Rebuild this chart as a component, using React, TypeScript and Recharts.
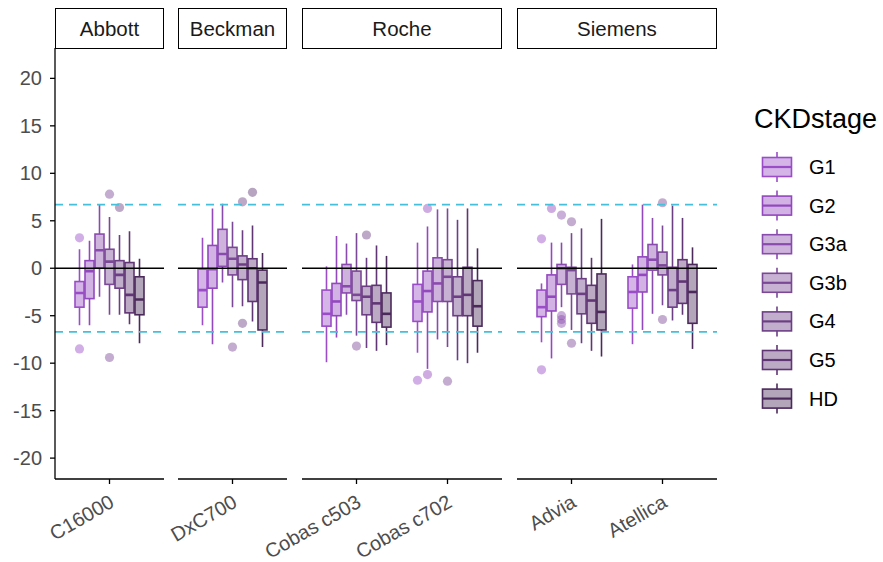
import React from 'react'
import { ComposedChart, Bar, XAxis, YAxis, ReferenceLine } from 'recharts'

// ─── data ─────────────────────────────────────────────────────
// each box: [lower whisker, Q1, median, Q3, upper whisker]
const STAGES = ['G1', 'G2', 'G3a', 'G3b', 'G4', 'G5', 'HD']
const Y_TICKS = [-20, -15, -10, -5, 0, 5, 10, 15, 20]
const LIMIT = 6.7

const c16000 = [
  [-6.0, -4.1, -2.6, -1.4, 2.0],
  [-6.0, -3.2, -0.3, 0.8, 2.9],
  [-3.0, 0.0, 1.9, 3.6, 6.7],
  [-4.9, -1.7, 0.7, 2.0, 5.4],
  [-4.9, -2.1, -0.7, 0.8, 3.5],
  [-5.9, -4.7, -2.8, 0.6, 3.9],
  [-7.9, -4.9, -3.3, -0.9, 1.0],
]
const c16000Out = [[3.2, -8.5], [], [], [7.8, -9.4], [6.4], [], []]

const dxc700 = [
  [-6.0, -4.1, -2.3, -0.1, 3.2],
  [-8.0, -2.1, -0.1, 2.4, 6.3],
  [-1.5, 0.2, 1.5, 4.1, 6.8],
  [-4.1, -0.7, 1.0, 2.2, 4.9],
  [-4.0, -1.2, 0.4, 1.3, 4.0],
  [-5.6, -3.5, 0.0, 1.0, 4.5],
  [-8.3, -6.5, -1.5, -0.2, 1.6],
]
const dxc700Out = [[], [], [], [-8.3], [7.0, -5.8], [8.0], []]

const c503 = [
  [-9.9, -6.1, -4.8, -2.3, 0.2],
  [-7.3, -5.0, -3.5, -1.6, 3.4],
  [-4.9, -2.6, -1.9, 0.4, 2.6],
  [-7.1, -3.4, -2.8, -0.3, 3.7],
  [-8.4, -4.9, -3.0, -1.9, 1.1],
  [-8.7, -5.7, -3.7, -1.8, 2.4],
  [-8.1, -6.2, -4.8, -2.6, 1.3],
]
const c503Out = [[], [], [], [-8.2], [3.5], [], []]

const c702 = [
  [-8.9, -5.6, -3.5, -1.7, 2.7],
  [-10.6, -4.6, -2.4, -0.3, 4.4],
  [-7.5, -3.5, -1.6, 1.1, 6.2],
  [-8.3, -3.5, -0.9, 0.9, 6.3],
  [-9.7, -5.0, -3.0, -0.9, 5.1],
  [-10.0, -5.0, -2.8, 0.1, 6.3],
  [-8.9, -6.1, -4.0, -1.3, 2.1],
]
const c702Out = [[-11.8], [6.3, -11.2], [], [-11.9], [], [], []]

const advia = [
  [-7.8, -5.1, -4.1, -2.3, -1.6],
  [-9.5, -4.5, -3.0, -0.7, 2.7],
  [-4.1, -1.7, 0.0, 0.4, 2.7],
  [-6.5, -2.7, -0.2, 0.1, 3.7],
  [-7.9, -4.8, -2.7, -1.1, 4.2],
  [-8.7, -5.8, -3.4, -1.8, 1.1],
  [-9.3, -6.5, -4.6, -0.6, 5.2],
]
const adviaOut = [[3.1, -10.7], [6.3], [5.6, -5.0, -5.4, -5.8], [4.9, -7.9], [], [], []]

const atellica = [
  [-8.0, -4.2, -2.5, -0.9, 0.4],
  [-6.5, -2.5, -0.7, 1.2, 6.7],
  [-4.8, -0.2, 0.9, 2.5, 5.3],
  [-3.9, -0.7, 0.3, 1.7, 4.5],
  [-5.5, -4.1, -2.3, 0.1, 6.6],
  [-4.9, -3.7, -1.4, 0.9, 5.3],
  [-8.5, -5.8, -2.5, 0.4, 2.2],
]
const atellicaOut = [[], [], [], [6.9, -5.4], [], [], []]

const FACETS = [
  { label: 'Abbott', rows: [{ name: 'C16000', box: c16000, out: c16000Out }] },
  { label: 'Beckman', rows: [{ name: 'DxC700', box: dxc700, out: dxc700Out }] },
  { label: 'Roche', rows: [
    { name: 'Cobas c503', box: c503, out: c503Out },
    { name: 'Cobas c702', box: c702, out: c702Out },
  ] },
  { label: 'Siemens', rows: [
    { name: 'Advia', box: advia, out: adviaOut },
    { name: 'Atellica', box: atellica, out: atellicaOut },
  ] },
]

// ─── layout / style ───────────────────────────────────────────
const W = 883
const H = 562
const PANEL_X = [[55, 164], [178, 287], [302, 502], [517, 717]]
const PANEL_TOP = 48
const PANEL_BOTTOM = 479
const FONT = '"Liberation Sans", Arial, sans-serif'
const LINE = ['#9a4dc7', '#9348be', '#8a4bae', '#7b4896', '#6c3f85', '#603574', '#4b2a5b']
const FILL_OP = 0.42

// box drawn inside the range bar [lower whisker, upper whisker]
const BoxShape = (props: any) => {
  const { x, y, width, height, payload, g } = props
  if (!payload) return null
  const [lo, q1, med, q3, hi] = payload.box[g]
  const top = Math.min(y, y + height)
  const k = Math.abs(height) / (hi - lo)
  const py = (v: number) => top + (hi - v) * k
  const cx = x + width / 2
  const c = LINE[g]
  return (
    <g>
      <line x1={cx} x2={cx} y1={py(hi)} y2={py(q3)} stroke={c} strokeWidth={1.6} />
      <line x1={cx} x2={cx} y1={py(q1)} y2={py(lo)} stroke={c} strokeWidth={1.6} />
      <rect x={x} y={py(q3)} width={width} height={py(q1) - py(q3)}
        fill={c} fillOpacity={FILL_OP} stroke={c} strokeWidth={1.6} />
      <line x1={x} x2={x + width} y1={py(med)} y2={py(med)} stroke={c} strokeWidth={2.6} />
      {payload.out[g].map((v: number, i: number) => (
        <circle key={i} cx={cx} cy={py(v)} r={4.6} fill={c} fillOpacity={0.45} />
      ))}
    </g>
  )
}

const XTick = ({ x, y, payload }: any) => {
  const ax = x + 6
  const ay = y + 20
  return (
    <text x={ax} y={ay} transform={`rotate(-30, ${ax}, ${ay})`} textAnchor="end"
      fontSize={20} fontFamily={FONT} fill="#4d4d4d">{payload.value}</text>
  )
}

const Legend = () => (
  <svg width={W} height={H} style={{ position: 'absolute', left: 0, top: 0, pointerEvents: 'none' }}>
    <text x={754} y={128} fontSize={27} fontFamily={FONT} fill="#000">CKDstage</text>
    {STAGES.map((s, i) => {
      const cy = 167 + i * 38.6
      const c = LINE[i]
      return (
        <g key={s}>
          <line x1={777} x2={777} y1={cy - 15} y2={cy + 15} stroke={c} strokeWidth={1.6} />
          <rect x={762.5} y={cy - 9.5} width={29} height={19} fill="#fff" />
          <rect x={762.5} y={cy - 9.5} width={29} height={19} fill={c} fillOpacity={FILL_OP} stroke={c} strokeWidth={1.6} />
          <line x1={762.5} x2={791.5} y1={cy} y2={cy} stroke={c} strokeWidth={2.2} />
          <text x={809} y={cy + 7} fontSize={20} fontFamily={FONT} fill="#000">{s}</text>
        </g>
      )
    })}
  </svg>
)

export default function App() {
  return (
    <div style={{ position: 'absolute', left: 0, top: 0, width: W, height: H, background: '#fff', fontFamily: FONT }}>
      {FACETS.map((f, i) => {
        const [l, r] = PANEL_X[i]
        return (
          <div key={f.label} style={{ position: 'absolute', left: 0, top: 0 }}>
            <ComposedChart width={W} height={H} data={f.rows} barGap={1}
              margin={{ top: PANEL_TOP, bottom: H - PANEL_BOTTOM - 60, left: i === 0 ? 0 : l, right: W - r }}>
              <XAxis dataKey="name" type="category" height={60} interval={0}
                padding={{ left: 9, right: 9 }} tick={<XTick />} tickSize={5}
                axisLine={{ stroke: '#000', strokeWidth: 1.3 }} tickLine={{ stroke: '#000', strokeWidth: 1.3 }} />
              <YAxis hide={i > 0} width={55} domain={[-22.2, 23.2]} ticks={Y_TICKS} allowDataOverflow
                interval={0} tickSize={5} tickMargin={8}
                tick={{ fontSize: 20, fill: '#4d4d4d', fontFamily: FONT }}
                axisLine={{ stroke: '#000', strokeWidth: 1.3 }} tickLine={{ stroke: '#000', strokeWidth: 1.3 }} />
              <ReferenceLine y={0} stroke="#000" strokeWidth={1.3} />
              {STAGES.map((s, g) => (
                <Bar key={s} name={s} dataKey={(d: any) => [d.box[g][0], d.box[g][4]]} barSize={9}
                  isAnimationActive={false} activeBar={false}
                  shape={(p: any) => <BoxShape {...p} g={g} />} />
              ))}
              <ReferenceLine y={LIMIT} stroke="#45c0da" strokeWidth={1.6} strokeDasharray="8 6" />
              <ReferenceLine y={-LIMIT} stroke="#45c0da" strokeWidth={1.6} strokeDasharray="8 6" />
            </ComposedChart>
          </div>
        )
      })}
      {FACETS.map((f, i) => {
        const [l, r] = PANEL_X[i]
        return (
          <div key={f.label + '-strip'} style={{
            position: 'absolute', left: l, top: 8, width: r - l, height: 41,
            border: '1.5px solid #000', boxSizing: 'border-box',
            display: 'flex', alignItems: 'center', justifyContent: 'center',
            fontSize: 20.5, color: '#1a1a1a', background: '#fff',
          }}>{f.label}</div>
        )
      })}
      <Legend />
    </div>
  )
}
